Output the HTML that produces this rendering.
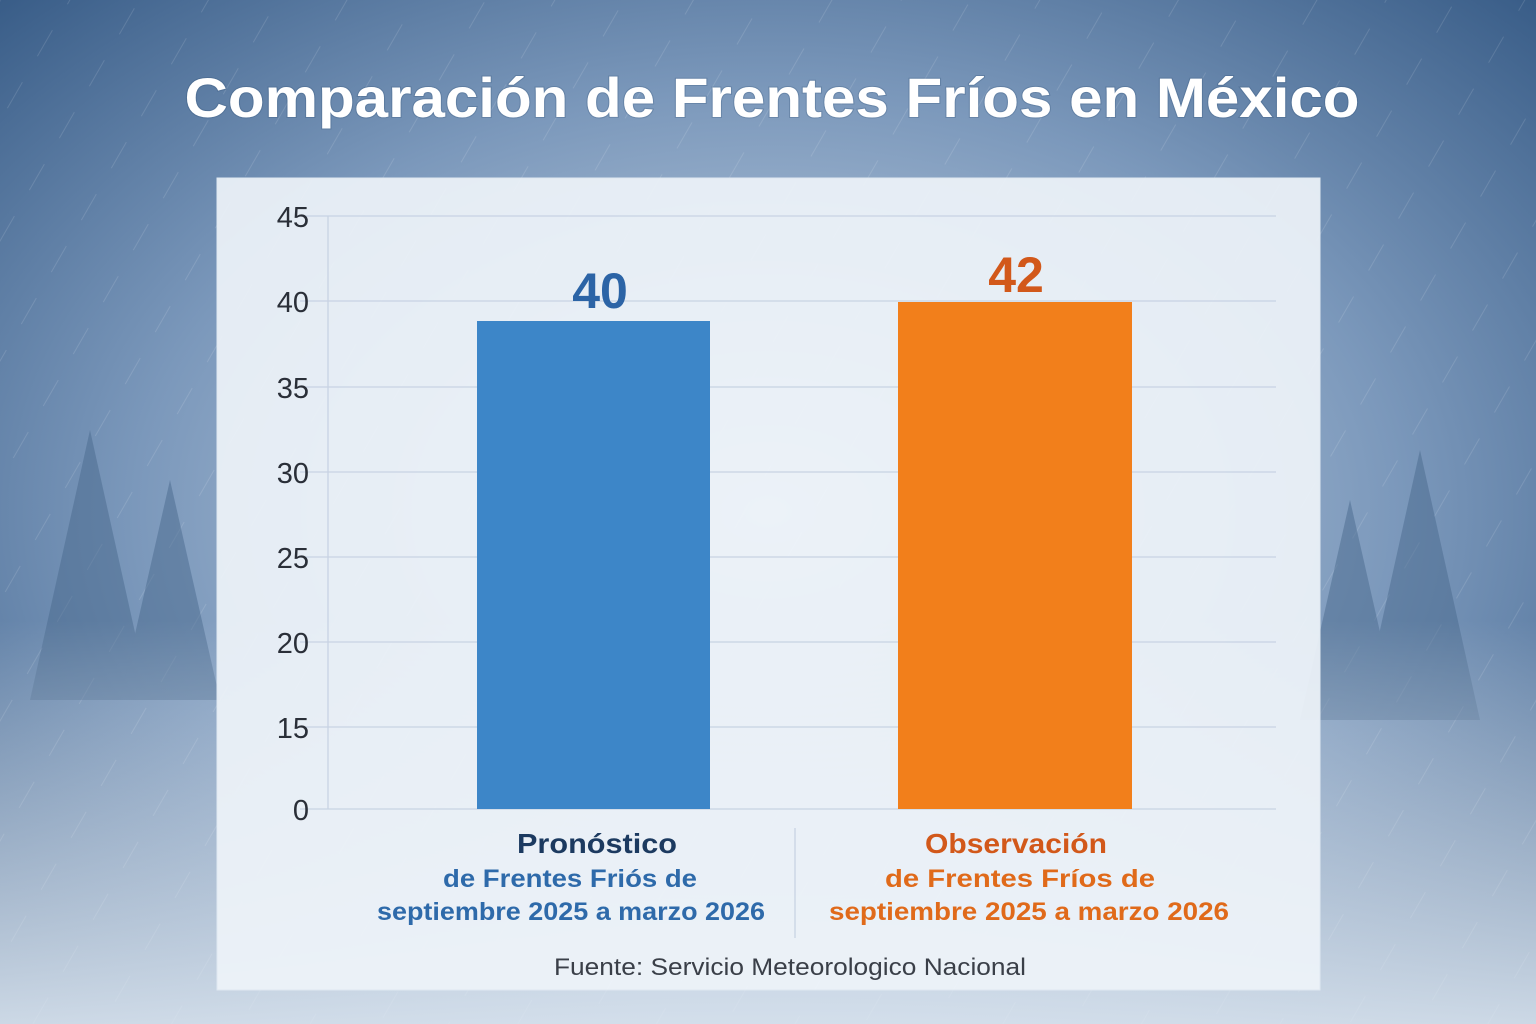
<!DOCTYPE html>
<html><head><meta charset="utf-8"><style>
html,body{margin:0;padding:0;width:1536px;height:1024px;overflow:hidden}
</style></head><body>
<svg width="1536" height="1024" xmlns="http://www.w3.org/2000/svg" font-family="'Liberation Sans', 'DejaVu Sans', sans-serif">
<defs>
<radialGradient id="bg" cx="50%" cy="50%" r="75%">
<stop offset="0" stop-color="#d2deeb"/>
<stop offset="0.55" stop-color="#7b98bb"/>
<stop offset="1" stop-color="#2f5480"/>
</radialGradient>
<linearGradient id="snow" x1="0" y1="0" x2="0" y2="1">
<stop offset="0" stop-color="#fff" stop-opacity="0"/>
<stop offset="1" stop-color="#e6eef6" stop-opacity="0.85"/>
</linearGradient>
<pattern id="streaks" width="60" height="60" patternUnits="userSpaceOnUse" patternTransform="rotate(30)">
<line x1="0" y1="0" x2="0" y2="30" stroke="#fff" stroke-opacity="0.12" stroke-width="2"/>
</pattern>
</defs>
<rect width="1536" height="1024" fill="url(#bg)"/>
<rect width="1536" height="1024" fill="url(#streaks)"/>
<g fill="#4a6a8e" opacity="0.5">
<polygon points="90,430 30,700 150,700"/><polygon points="170,480 120,700 220,700"/>
<polygon points="1420,450 1360,720 1480,720"/><polygon points="1350,500 1300,720 1400,720"/>
</g>
<rect y="620" width="1536" height="404" fill="url(#snow)"/>
<text x="772" y="117" text-anchor="middle" font-size="56" font-weight="bold" fill="#fff" textLength="1175" lengthAdjust="spacingAndGlyphs" style="paint-order:stroke" stroke="#2a4a70" stroke-opacity="0.25" stroke-width="2">Comparación de Frentes Fríos en México</text>
<rect x="217" y="178" width="1103" height="812" fill="#eef3f8" fill-opacity="0.92" stroke="#dfe8f1"/>
<g stroke="#c8d3e3" stroke-width="1.3">
<line x1="300" y1="216" x2="1276" y2="216"/>
<line x1="300" y1="301" x2="1276" y2="301"/>
<line x1="300" y1="387" x2="1276" y2="387"/>
<line x1="300" y1="472" x2="1276" y2="472"/>
<line x1="300" y1="557" x2="1276" y2="557"/>
<line x1="300" y1="642" x2="1276" y2="642"/>
<line x1="300" y1="727" x2="1276" y2="727"/>
<line x1="300" y1="809" x2="1276" y2="809"/>
<line x1="328" y1="216" x2="328" y2="809"/>
<line x1="795" y1="828" x2="795" y2="938"/>
</g>
<g font-size="29" fill="#2a2f38" text-anchor="end">
<text x="309" y="227">45</text><text x="309" y="312">40</text><text x="309" y="398">35</text>
<text x="309" y="483">30</text><text x="309" y="568">25</text><text x="309" y="653">20</text>
<text x="309" y="738">15</text><text x="309" y="820">0</text>
</g>
<rect x="477" y="321" width="233" height="488" fill="#3d86c8"/>
<rect x="898" y="302" width="234" height="507" fill="#f27f1b"/>
<text x="600" y="308" text-anchor="middle" font-size="50" font-weight="bold" fill="#2c64a6">40</text>
<text x="1016" y="292" text-anchor="middle" font-size="50" font-weight="bold" fill="#d2581a">42</text>
<g font-weight="bold" text-anchor="middle">
<text x="597" y="853" font-size="28" fill="#1c3a60" textLength="160" lengthAdjust="spacingAndGlyphs">Pronóstico</text>
<text x="570" y="887" font-size="25" fill="#2e6aaa" textLength="254" lengthAdjust="spacingAndGlyphs">de Frentes Friós de</text>
<text x="571" y="920" font-size="25" fill="#2e6aaa" textLength="388" lengthAdjust="spacingAndGlyphs">septiembre 2025 a marzo 2026</text>
<text x="1016" y="853" font-size="28" fill="#d2581a" textLength="182" lengthAdjust="spacingAndGlyphs">Observación</text>
<text x="1020" y="887" font-size="25" fill="#e06a1a" textLength="270" lengthAdjust="spacingAndGlyphs">de Frentes Fríos de</text>
<text x="1029" y="920" font-size="25" fill="#e06a1a" textLength="400" lengthAdjust="spacingAndGlyphs">septiembre 2025 a marzo 2026</text>
</g>
<text x="790" y="975" text-anchor="middle" font-size="24" fill="#3a3f48" textLength="472" lengthAdjust="spacingAndGlyphs">Fuente: Servicio Meteorologico Nacional</text>
</svg>
</body></html>
